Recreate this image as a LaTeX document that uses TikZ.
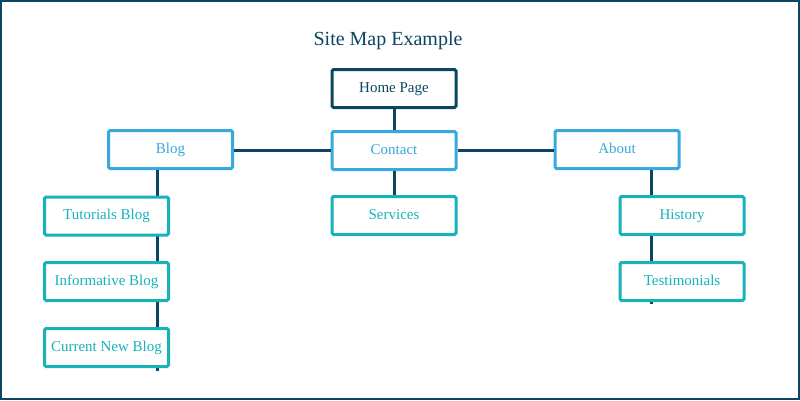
\documentclass[tikz,border=0pt]{standalone}
\usepackage{tikz}
\usepackage{fontspec}
\setmainfont{Liberation Serif}
\definecolor{dk}{HTML}{0B4563}
\definecolor{bl}{HTML}{36A9DD}
\definecolor{tl}{HTML}{18B2BA}
\begin{document}
\begin{tikzpicture}[x=1pt,y=-1pt,
  box/.style={draw,line width=3pt,rounded corners=1.5pt,fill=white,minimum width=124pt,minimum height=38pt,inner sep=0pt,text height=10pt,text depth=3pt,font=\fontsize{15}{17}\selectfont},
  homebox/.style={box,draw=dk,text=dk},
  bluebox/.style={box,draw=bl,text=bl},
  tealbox/.style={box,draw=tl,text=tl},
  conn/.style={draw=dk,line width=3pt}]
\useasboundingbox (0,0) rectangle (800,400);
\fill[white] (0,0) rectangle (800,400);
\draw[dk,line width=2.2pt] (1,1) rectangle (799,399);
\node[text=dk,font=\fontsize{20}{23}\selectfont] (title) at (388,41) {Site Map Example};
\coordinate (lend) at (157,371);
\coordinate (rend) at (651,304);
\coordinate (ltop) at (157,150);
\coordinate (rtop) at (651,150);
\node[homebox] (home) at (394,88.5) {Home Page};
\node[bluebox] (contact) at (394,150.5) {Contact};
\node[tealbox] (services) at (394,215.5) {Services};
\node[bluebox] (blog) at (170.5,149.5) {Blog};
\node[bluebox] (about) at (617,149.5) {About};
\path[conn] (home) -- (contact);
\path[conn] (contact) -- (services);
\path[conn] (blog.east |- contact.west) -- (contact.west);
\path[conn] (contact.east) -- (about.west |- contact.east);
\path[conn] (blog.south -| ltop) -- (lend);
\path[conn] (about.south -| rtop) -- (rend);
\node[tealbox] (tut) at (106.5,216) {Tutorials Blog};
\node[tealbox] (inf) at (106.5,281.5) {Informative Blog};
\node[tealbox] (cur) at (106.5,347.5) {Current New Blog};
\node[tealbox] (hist) at (682,215.5) {History};
\node[tealbox] (test) at (682,281.5) {Testimonials};
\end{tikzpicture}
\end{document}
